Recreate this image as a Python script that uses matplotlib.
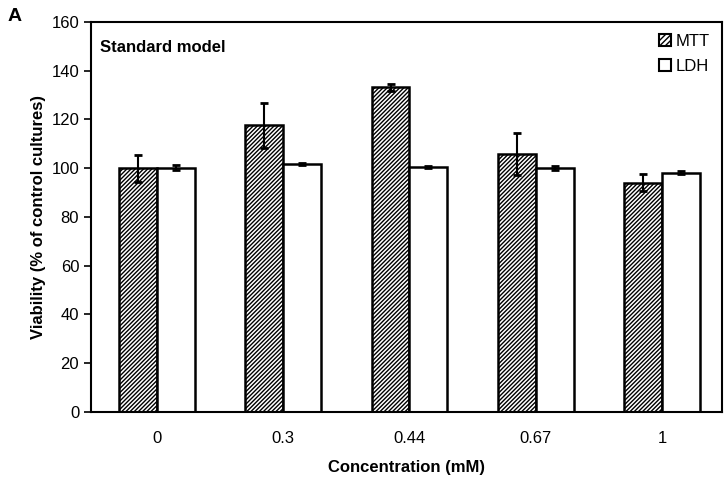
import numpy as np
import matplotlib
matplotlib.use('Agg')
import matplotlib.pyplot as plt
from matplotlib.patches import Patch

plt.rcParams['font.family'] = ['Liberation Sans', 'DejaVu Sans']
plt.rcParams['hatch.linewidth'] = 1.0

concentrations = ['0', '0.3', '0.44', '0.67', '1']
mtt = [100.0, 117.7, 133.2, 105.8, 94.1]    # viabilite MTT (%)
mtt_err = [5.5, 9.2, 1.5, 8.5, 3.5]
ldh = [100.2, 101.6, 100.6, 100.1, 98.2]    # viabilite LDH (%)
ldh_err = [1.0, 0.4, 0.4, 0.9, 0.7]

fig = plt.figure(figsize=(7.24, 4.79), dpi=100)
ax = fig.add_axes([0.1257, 0.1399, 0.8713, 0.8142])

x = np.arange(len(concentrations))
w = 0.30
hachures = '/' * 8
err_kw = dict(ecolor='black', elinewidth=1.5, capsize=3, capthick=2)

ax.bar(x - w/2, mtt, w, yerr=mtt_err, color='white', edgecolor='black',
       hatch=hachures, linewidth=1.8, error_kw=err_kw, label='MTT')
ax.bar(x + w/2, ldh, w, yerr=ldh_err, color='white', edgecolor='black',
       linewidth=1.8, error_kw=err_kw, label='LDH')

ax.set_xlim(-0.523, 4.475)
ax.set_ylim(0, 160)
ax.set_yticks(np.arange(0, 161, 20))
ax.set_xticks(x)
ax.set_xticklabels(concentrations)
ax.tick_params(axis='x', length=0, pad=14, labelsize=12)
ax.tick_params(axis='y', length=5, width=1.2, labelsize=12, direction='out')
for s in ax.spines.values():
    s.set_linewidth(1.5)

ax.set_xlabel('Concentration (mM)', fontsize=12, fontweight='bold', labelpad=10)
ax.set_ylabel('Viability (% of control cultures)', fontsize=12, fontweight='bold', labelpad=4)

ax.text(0.015, 0.955, 'Standard model', transform=ax.transAxes, fontsize=12,
        fontweight='bold', va='top', ha='left')

handles = [Patch(facecolor='white', edgecolor='black', hatch='//////', linewidth=1.5),
           Patch(facecolor='white', edgecolor='black', linewidth=1.5)]
ax.legend(handles, ['MTT', 'LDH'], loc='upper right', frameon=False, fontsize=12,
          handlelength=0.7, handleheight=0.7, handletextpad=0.3, labelspacing=0.6,
          borderaxespad=0.3)

fig.text(0.011, 0.965, 'A', fontsize=14, fontweight='bold', va='center')

plt.savefig('out.png', dpi=100)
